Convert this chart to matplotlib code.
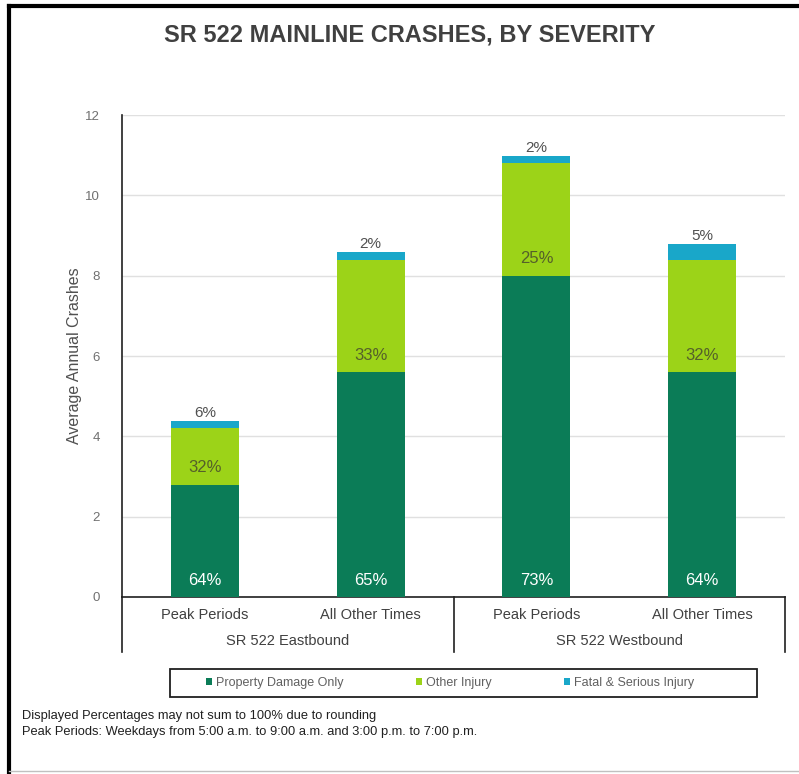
import numpy as np
import matplotlib
matplotlib.use("Agg")
import matplotlib.pyplot as plt
from matplotlib.patches import Rectangle

plt.rcParams['font.family'] = ['Liberation Sans', 'DejaVu Sans']

# Data
categories = ["Peak Periods", "All Other Times", "Peak Periods", "All Other Times"]
groups = ["SR 522 Eastbound", "SR 522 Westbound"]
pdo = [2.8, 5.6, 8.0, 5.6]
other_injury = [1.4, 2.8, 2.8, 2.8]
fatal_serious = [0.18, 0.2, 0.18, 0.4]
pdo_labels = ["64%", "65%", "73%", "64%"]
oi_labels = ["32%", "33%", "25%", "32%"]
fsi_labels = ["6%", "2%", "2%", "5%"]
series_names = ["Property Damage Only", "Other Injury", "Fatal & Serious Injury"]

colors = ["#0B7C57", "#9CD318", "#19A7C9"]

fig = plt.figure(figsize=(7.99, 7.74), dpi=100)
ax = fig.add_axes([0.1527, 0.2287, 0.8298, 0.6227])

x = np.arange(len(categories))
w = 0.41
pdo = np.array(pdo)
oi = np.array(other_injury)
fsi = np.array(fatal_serious)

b1 = ax.bar(x, pdo, w, color=colors[0], label=series_names[0], zorder=3)
b2 = ax.bar(x, oi, w, bottom=pdo, color=colors[1], label=series_names[1], zorder=3)
b3 = ax.bar(x, fsi, w, bottom=pdo + oi, color=colors[2], label=series_names[2], zorder=3)

# percentage labels
for i in range(len(x)):
    ax.text(x[i], 0.42, pdo_labels[i], ha="center", va="center",
            color="white", fontsize=12, zorder=4)
    ax.text(x[i], pdo[i] + 0.42, oi_labels[i], ha="center", va="center",
            color="#55602a", fontsize=12, zorder=4)
    ax.text(x[i], pdo[i] + oi[i] + fsi[i] + 0.2, fsi_labels[i], ha="center",
            va="center", color="#505050", fontsize=11, zorder=4)

ax.set_xlim(-0.5, 3.5)
ax.set_ylim(0, 12)
ax.set_yticks(np.arange(0, 13, 2))
ax.tick_params(axis="y", length=0, labelsize=9.5, labelcolor="#707070", pad=16)
ax.set_xticks(x)
ax.set_xticklabels(categories)
ax.tick_params(axis="x", length=0, labelsize=10.5, labelcolor="#404040", pad=8)
ax.set_ylabel("Average Annual Crashes", fontsize=11.5, color="#505050", labelpad=2)
ax.yaxis.grid(True, color="#e0e0e0", linewidth=1, zorder=0)

for s in ["top", "right"]:
    ax.spines[s].set_visible(False)
ax.spines["left"].set_color("#202020")
ax.spines["bottom"].set_color("#202020")
ax.spines["left"].set_linewidth(1.2)
ax.spines["bottom"].set_linewidth(1.2)

# group separators and group labels
sep_depth = -(652 - 597) / 482.0
for xs in [0.0, 0.5, 1.0]:
    ax.plot([xs, xs], [0, sep_depth], transform=ax.transAxes, color="#202020",
            linewidth=1.2, clip_on=False)
for gi, g in enumerate(groups):
    ax.text(0.25 + 0.5 * gi, -(641 - 597) / 482.0, g, transform=ax.transAxes,
            ha="center", va="center", fontsize=10.5, color="#404040")

fig.text(0.513, 1 - 35 / 774, "SR 522 MAINLINE CRASHES, BY SEVERITY",
         ha="center", va="center", fontsize=17, fontweight="bold", color="#404040")

# legend inside a separately drawn box
fig.add_artist(Rectangle((170 / 799, 1 - 697 / 774), 587 / 799, 28 / 774,
                         transform=fig.transFigure, fill=False,
                         edgecolor="#202020", linewidth=1.3))
leg = fig.legend(handles=[b1, b2, b3], labels=series_names, ncol=3,
                 loc="center", bbox_to_anchor=(450 / 799, 1 - 683 / 774),
                 fontsize=9, frameon=False,
                 handlelength=0.5, handleheight=0.5, handletextpad=0.3,
                 columnspacing=5.8, labelcolor="#606060")

fig.text(22 / 799, 1 - 716 / 774,
         "Displayed Percentages may not sum to 100% due to rounding",
         ha="left", va="center", fontsize=9.3, color="#202020")
fig.text(22 / 799, 1 - 732 / 774,
         "Peak Periods: Weekdays from 5:00 a.m. to 9:00 a.m. and 3:00 p.m. to 7:00 p.m.",
         ha="left", va="center", fontsize=9.3, color="#202020")

# outer frame
fig.add_artist(plt.Line2D([9 / 799, 1.0], [1 - 6 / 774, 1 - 6 / 774],
                          transform=fig.transFigure, color="black", linewidth=3))
fig.add_artist(plt.Line2D([9 / 799, 9 / 799], [1 - 6 / 774, 0],
                          transform=fig.transFigure, color="black", linewidth=3))
fig.add_artist(plt.Line2D([9 / 799, 1.0], [3 / 774, 3 / 774],
                          transform=fig.transFigure, color="#c0c0c0", linewidth=1))

fig.savefig("out.png", dpi=100)
